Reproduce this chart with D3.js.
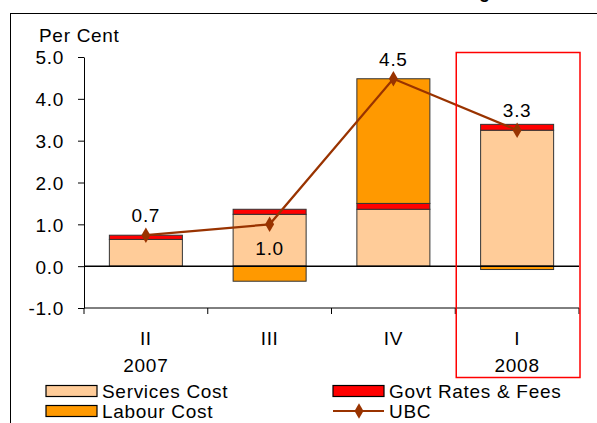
<!DOCTYPE html>
<html>
<head>
<meta charset="utf-8">
<script src="https://cdn.jsdelivr.net/npm/d3@7"></script>
<style>
  body { margin: 0; background: #fff; }
  svg { display: block; font-family: "Liberation Sans", Arial, sans-serif; }
  .t { font-size: 19px; letter-spacing: 0.7px; fill: #000; }
</style>
</head>
<body>
<svg width="597" height="423"></svg>
<script>
// data
let quarters = ["II", "III", "IV", "I"];
let years = ["2007", "", "", "2008"];
let servicesCost = [0.64, 1.24, 1.36, 3.25];
let govtRates = [0.10, 0.12, 0.14, 0.14];
let labourCost = [0.0, -0.36, 2.98, -0.08];
let ubc = [0.74, 1.0, 4.48, 3.25];
let ubcLabels = ["0.7", "1.0", "4.5", "3.3"];
let labelAbove = [true, false, true, true];
let yTicks = [-1, 0, 1, 2, 3, 4, 5];

let svg = d3.select("svg"),
  margin = { top: 57, right: 18, bottom: 115, left: 84 },
  width = +svg.attr("width") - margin.left - margin.right,
  height = +svg.attr("height") - margin.top - margin.bottom;

let colors = { services: "#FFCC99", govt: "#FF0000", labour: "#FF9900" };

let table = quarters.map(function (q, i) {
  return { q: q, services: servicesCost[i], govt: govtRates[i], labour: labourCost[i] };
});

let x = d3.scaleBand().domain(quarters).range([0, width]).paddingInner(0.41).paddingOuter(0.205),
  xb = d3.scaleBand().domain(quarters).range([0, width]),
  y = d3.scaleLinear().domain([-1, 5]).range([height, 0]);

// outer frame (right side runs off the picture)
svg.append("rect")
  .attr("x", 10.5).attr("y", 13.5)
  .attr("width", 620).attr("height", 430)
  .attr("fill", "none").attr("stroke", "#000").attr("stroke-width", 1);

// title sits above the crop, only the descender of the g shows
svg.append("text")
  .attr("x", 500).attr("y", -1.9)
  .attr("text-anchor", "end")
  .attr("font-weight", "bold").attr("font-size", 18)
  .text("Contributions to UBC Change");

svg.append("text")
  .attr("class", "t")
  .attr("x", 39).attr("y", 42)
  .text("Per Cent");

let g = svg.append("g")
  .attr("transform", "translate(" + margin.left + "," + margin.top + ")");

// y axis
g.append("g")
  .call(d3.axisLeft(y).tickValues(yTicks).tickSize(6).tickPadding(14).tickSizeOuter(0)
    .tickFormat(function (d) { return d.toFixed(1); }))
  .call(function (a) {
    a.selectAll("text").attr("class", "t").attr("font-family", null).attr("font-size", null)
      .attr("dy", "0.36em");
  });

// x axis at the bottom with ticks between categories
let xAxis = g.append("g").attr("transform", "translate(0," + height + ")");
xAxis.append("line").attr("x1", 0).attr("x2", width).attr("stroke", "#000");
xAxis.selectAll("line.tk")
  .data(d3.range(quarters.length + 1))
  .enter().append("line")
  .attr("class", "tk")
  .attr("x1", function (d) { return d * xb.step(); })
  .attr("x2", function (d) { return d * xb.step(); })
  .attr("y1", 0).attr("y2", 6)
  .attr("stroke", "#000");
xAxis.selectAll("text.q")
  .data(quarters)
  .enter().append("text")
  .attr("class", "t")
  .attr("x", function (d) { return xb(d) + xb.bandwidth() / 2; })
  .attr("y", 37)
  .attr("text-anchor", "middle")
  .text(function (d) { return d; });
xAxis.selectAll("text.yr")
  .data(years)
  .enter().append("text")
  .attr("class", "t")
  .attr("x", function (d, i) { return xb(quarters[i]) + xb.bandwidth() / 2; })
  .attr("y", 64)
  .attr("text-anchor", "middle")
  .text(function (d) { return d; });

// stacked bars
let series = d3.stack()
  .keys(["services", "govt", "labour"])
  .offset(d3.stackOffsetDiverging)(table);

g.selectAll("g.layer")
  .data(series)
  .enter().append("g")
  .attr("class", "layer")
  .attr("fill", function (d) { return colors[d.key]; })
  .selectAll("rect")
  .data(function (d) { return d.filter(function (p) { return p[1] !== p[0]; }); })
  .enter().append("rect")
  .attr("x", function (d) { return x(d.data.q); })
  .attr("y", function (d) { return y(Math.max(d[0], d[1])); })
  .attr("width", x.bandwidth())
  .attr("height", function (d) { return Math.abs(y(d[0]) - y(d[1])); })
  .attr("stroke", "#333").attr("stroke-width", 1);

// zero line
g.append("line")
  .attr("x1", 0).attr("x2", width)
  .attr("y1", y(0)).attr("y2", y(0))
  .attr("stroke", "#000").attr("stroke-width", 1.5);

// UBC line
let cx = function (i) { return xb(quarters[i]) + xb.bandwidth() / 2; };
g.append("path")
  .datum(ubc)
  .attr("fill", "none").attr("stroke", "#993300").attr("stroke-width", 2.2)
  .attr("d", d3.line().x(function (d, i) { return cx(i); }).y(function (d) { return y(d); }));

g.selectAll("path.mk")
  .data(ubc)
  .enter().append("path")
  .attr("class", "mk")
  .attr("d", d3.symbol(d3.symbolDiamond, 70))
  .attr("transform", function (d, i) { return "translate(" + cx(i) + "," + y(d) + ")"; })
  .attr("fill", "#993300");

g.selectAll("text.lbl")
  .data(ubc)
  .enter().append("text")
  .attr("class", "t")
  .attr("x", function (d, i) { return cx(i); })
  .attr("y", function (d, i) { return labelAbove[i] ? y(d) - 13 : y(d) + 31; })
  .attr("text-anchor", "middle")
  .text(function (d, i) { return ubcLabels[i]; });

// highlight box around 2008 Q1
svg.append("rect")
  .attr("x", margin.left + xb("I") + 1).attr("y", 52.5)
  .attr("width", xb.step()).attr("height", 325)
  .attr("fill", "none").attr("stroke", "#FF0000").attr("stroke-width", 1.5);

// legend
let legendItems = [
  { name: "Services Cost", type: "rect", color: colors.services, x: 46, y: 391 },
  { name: "Labour Cost", type: "rect", color: colors.labour, x: 46, y: 411 },
  { name: "Govt Rates & Fees", type: "rect", color: colors.govt, x: 333, y: 391 },
  { name: "UBC", type: "line", color: "#993300", x: 333, y: 411 }
];
let leg = svg.selectAll("g.leg")
  .data(legendItems)
  .enter().append("g")
  .attr("class", "leg")
  .attr("transform", function (d) { return "translate(" + d.x + "," + d.y + ")"; });
leg.filter(function (d) { return d.type === "rect"; })
  .append("rect")
  .attr("x", 0).attr("y", -5.5).attr("width", 51).attr("height", 11)
  .attr("fill", function (d) { return d.color; })
  .attr("stroke", "#000").attr("stroke-width", 1.2);
leg.filter(function (d) { return d.type === "line"; })
  .append("line")
  .attr("x1", 0).attr("x2", 51).attr("y1", 0).attr("y2", 0)
  .attr("stroke", function (d) { return d.color; }).attr("stroke-width", 2.2);
leg.filter(function (d) { return d.type === "line"; })
  .append("path")
  .attr("d", d3.symbol(d3.symbolDiamond, 70))
  .attr("transform", "translate(26,0)")
  .attr("fill", function (d) { return d.color; });
leg.append("text")
  .attr("class", "t")
  .attr("x", 56).attr("y", 7)
  .text(function (d) { return d.name; });
</script>
</body>
</html>
